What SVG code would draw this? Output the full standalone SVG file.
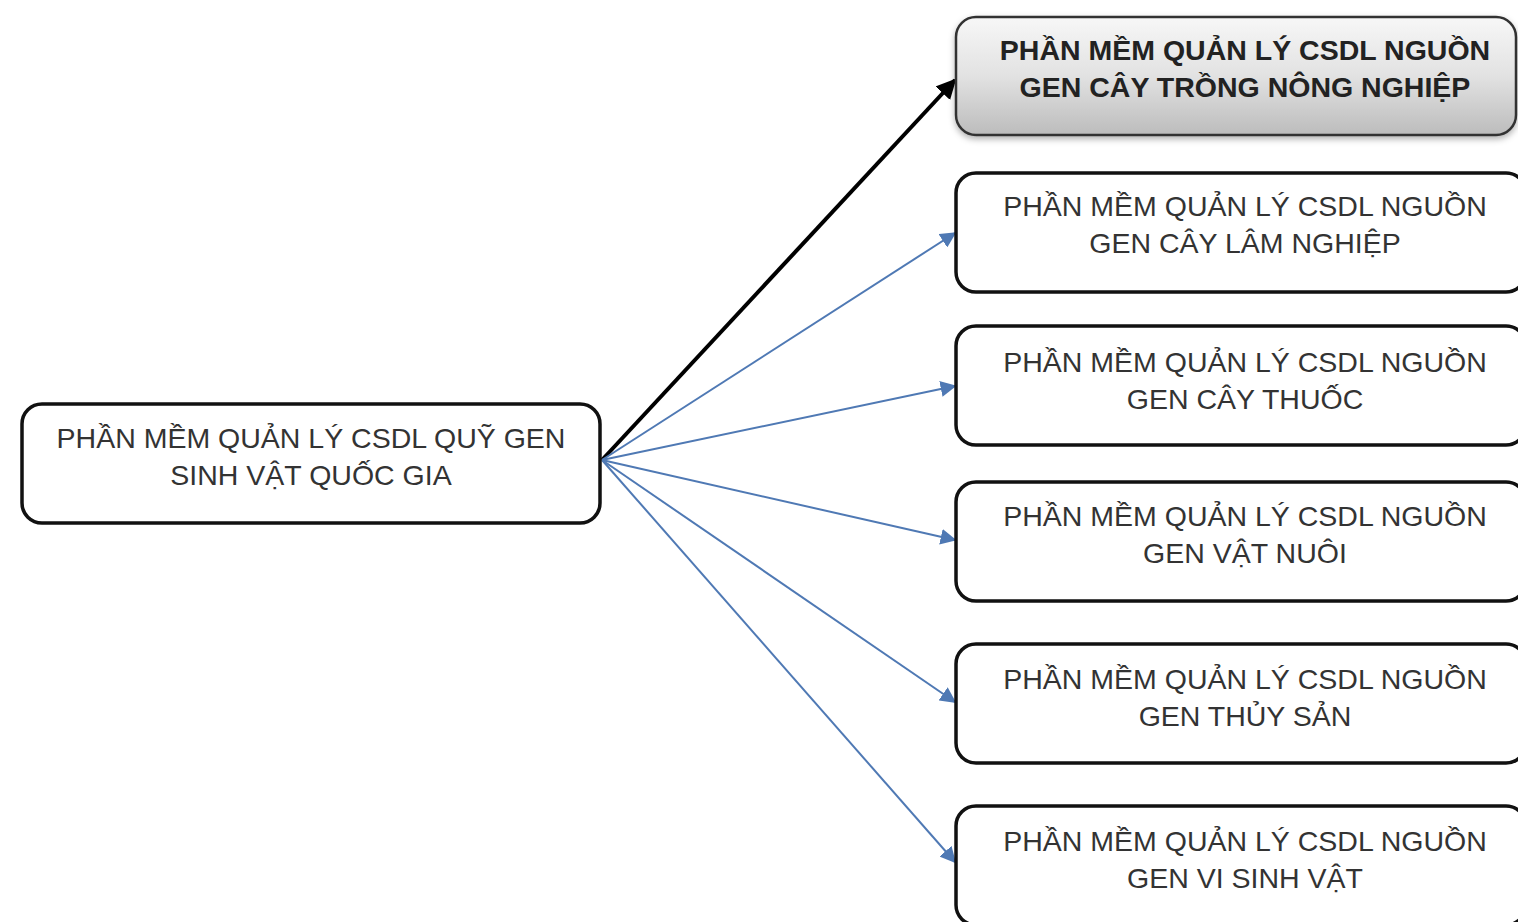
<svg xmlns="http://www.w3.org/2000/svg" width="1518" height="922" viewBox="0 0 1518 922">
<defs>
<linearGradient id="g1" x1="0" y1="0" x2="0" y2="1">
<stop offset="0" stop-color="#f7f7f7"/>
<stop offset="0.5" stop-color="#e2e2e2"/>
<stop offset="1" stop-color="#bcbcbc"/>
</linearGradient>
<filter id="sh" x="-5%" y="-10%" width="110%" height="130%">
<feDropShadow dx="0" dy="3" stdDeviation="3" flood-color="#000" flood-opacity="0.3"/>
</filter>
<marker id="ab" viewBox="0 0 10 10" refX="9" refY="5" markerWidth="5" markerHeight="5" orient="auto" markerUnits="strokeWidth">
<path d="M0,0 L10,5 L0,10 z" fill="#000"/>
</marker>
<marker id="au" viewBox="0 0 10 10" refX="9" refY="5" markerWidth="8" markerHeight="8" orient="auto" markerUnits="strokeWidth">
<path d="M0,0 L10,5 L0,10 z" fill="#4f79b4"/>
</marker>
</defs>
<style>
.box{fill:#fff;stroke:#111;stroke-width:3.5}
.t{font-family:"Liberation Sans",Arial,sans-serif;font-size:28.5px;fill:#333;text-anchor:middle}
.b{font-weight:bold;font-size:28.5px;fill:#222}
.blue{stroke:#4f79b4;stroke-width:2;fill:none}
.blk{stroke:#000;stroke-width:4;fill:none}
</style>
<rect width="1518" height="922" fill="#fff"/>
<g id="connectors">
<line class="blk" x1="602" y1="460" x2="955" y2="80" marker-end="url(#ab)"/>
<line class="blue" x1="602" y1="460" x2="955" y2="233" marker-end="url(#au)"/>
<line class="blue" x1="602" y1="460" x2="955" y2="386" marker-end="url(#au)"/>
<line class="blue" x1="602" y1="460" x2="955" y2="540" marker-end="url(#au)"/>
<line class="blue" x1="602" y1="460" x2="955" y2="702" marker-end="url(#au)"/>
<line class="blue" x1="602" y1="460" x2="955" y2="862" marker-end="url(#au)"/>
</g>
<g id="root">
<rect class="box" x="22" y="404" width="578" height="119" rx="20"/>
<text class="t" x="311" y="448">PHẦN MỀM QUẢN LÝ CSDL QUỸ GEN</text>
<text class="t" x="311" y="485">SINH VẬT QUỐC GIA</text>
</g>
<g id="n1">
<rect x="956" y="17" width="560" height="118" rx="20" fill="url(#g1)" stroke="#333" stroke-width="2.5" filter="url(#sh)"/>
<text class="t b" x="1245" y="60">PHẦN MỀM QUẢN LÝ CSDL NGUỒN</text>
<text class="t b" x="1245" y="97">GEN CÂY TRỒNG NÔNG NGHIỆP</text>
</g>
<g id="n2">
<rect class="box" x="956" y="173" width="570" height="119" rx="20"/>
<text class="t" x="1245" y="216">PHẦN MỀM QUẢN LÝ CSDL NGUỒN</text>
<text class="t" x="1245" y="253">GEN CÂY LÂM NGHIỆP</text>
</g>
<g id="n3">
<rect class="box" x="956" y="326" width="570" height="119" rx="20"/>
<text class="t" x="1245" y="372">PHẦN MỀM QUẢN LÝ CSDL NGUỒN</text>
<text class="t" x="1245" y="409">GEN CÂY THUỐC</text>
</g>
<g id="n4">
<rect class="box" x="956" y="482" width="570" height="119" rx="20"/>
<text class="t" x="1245" y="526">PHẦN MỀM QUẢN LÝ CSDL NGUỒN</text>
<text class="t" x="1245" y="563">GEN VẬT NUÔI</text>
</g>
<g id="n5">
<rect class="box" x="956" y="644" width="570" height="119" rx="20"/>
<text class="t" x="1245" y="689">PHẦN MỀM QUẢN LÝ CSDL NGUỒN</text>
<text class="t" x="1245" y="726">GEN THỦY SẢN</text>
</g>
<g id="n6">
<rect class="box" x="956" y="806" width="570" height="119" rx="20"/>
<text class="t" x="1245" y="851">PHẦN MỀM QUẢN LÝ CSDL NGUỒN</text>
<text class="t" x="1245" y="888">GEN VI SINH VẬT</text>
</g>
</svg>
